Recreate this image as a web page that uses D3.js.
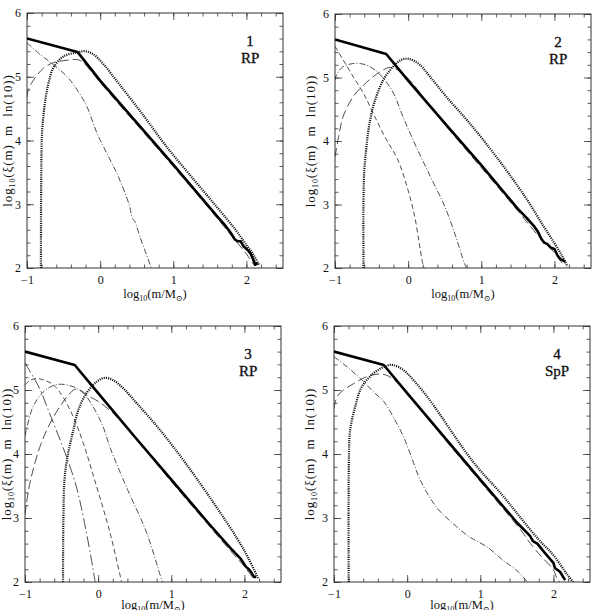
<!DOCTYPE html>
<html><head><meta charset="utf-8">
<script src="https://cdn.jsdelivr.net/npm/d3@7"></script>
<style>body{margin:0;background:#fff}svg{display:block}</style>
</head><body>
<script>
// tick values
let xMajor=[-1,0,1,2];
let yMajor=[2,3,4,5,6];
let panelNum=["1","2","3","4"];
let panelType=["RP","RP","RP","SpP"];

// panel 1
let p1Total=[[-1,5.60],[-0.31,5.39],[0,4.94],[0.5,4.28],[1,3.62],[1.4,3.08],[1.6,2.81],[1.7,2.68],[1.78,2.56],[1.84,2.45],[1.88,2.42],[1.92,2.42],[1.96,2.34],[2.02,2.28],[2.06,2.22],[2.09,2.14],[2.12,2.05],[2.15,2.08]];
let p1Dotted=[[-0.81,2.0],[-0.805,3.5],[-0.795,4.1],[-0.77,4.45],[-0.74,4.7],[-0.7,4.93],[-0.64,5.14],[-0.5,5.32],[-0.32,5.38],[-0.2,5.40],[-0.09,5.35],[0.05,5.19],[0.27,4.87],[0.6,4.38],[0.91,3.9],[1.3,3.36],[1.6,2.95],[1.85,2.6],[2.0,2.36],[2.1,2.2],[2.17,2.05]];
let p1LongDash=[[-1,4.68],[-0.98,4.80],[-0.91,4.95],[-0.77,5.14],[-0.64,5.22],[-0.45,5.26],[-0.32,5.27],[-0.25,5.24],[-0.14,5.11],[0,4.91],[0.5,4.25],[1,3.59],[1.5,2.92],[1.8,2.5],[2.0,2.22],[2.1,2.05]];
let p1DashDot=[[-1,5.53],[-0.82,5.35],[-0.64,5.19],[-0.45,5.0],[-0.3,4.77],[-0.18,4.53],[-0.045,4.12],[0.1,3.78],[0.25,3.43],[0.4,2.98],[0.44,2.78],[0.47,2.74],[0.55,2.47],[0.63,2.22],[0.7,2.0]];

// panel 2
let p2Total=[[-1,5.60],[-0.3,5.37],[0,4.95],[0.5,4.28],[1,3.62],[1.5,2.93],[1.62,2.79],[1.72,2.66],[1.77,2.58],[1.82,2.46],[1.86,2.40],[1.9,2.38],[1.95,2.32],[2.0,2.30],[2.04,2.2],[2.08,2.14],[2.15,2.10]];
let p2Dotted=[[-0.61,2.0],[-0.605,3.4],[-0.57,3.91],[-0.52,4.33],[-0.45,4.65],[-0.34,4.96],[-0.23,5.14],[-0.09,5.28],[0.02,5.29],[0.16,5.20],[0.30,5.01],[0.52,4.70],[0.84,4.28],[1.2,3.76],[1.6,3.12],[1.85,2.66],[2.0,2.39],[2.1,2.2],[2.18,2.02]];
let p2LongDash=[[-1,3.75],[-0.95,4.07],[-0.89,4.38],[-0.75,4.70],[-0.61,4.88],[-0.48,5.01],[-0.34,5.12],[-0.25,5.16],[-0.16,5.13],[0.02,4.96],[0.2,4.70],[0.5,4.26],[1,3.58],[1.5,2.9],[1.8,2.48],[2.0,2.24],[2.12,2.05]];
let p2ShortDash=[[-1,5.49],[-0.89,5.28],[-0.75,5.01],[-0.61,4.75],[-0.48,4.44],[-0.32,4.07],[-0.14,3.70],[0,3.22],[0.09,2.81],[0.15,2.4],[0.2,2.07],[0.22,2.0]];
let p2DashDot=[[-1,4.96],[-0.98,5.04],[-0.89,5.17],[-0.75,5.22],[-0.61,5.21],[-0.48,5.14],[-0.34,4.99],[-0.2,4.75],[-0.07,4.38],[0.11,3.91],[0.3,3.45],[0.5,2.97],[0.65,2.5],[0.77,2.07],[0.8,2.0]];

// panel 3
let p3Total=[[-1,5.60],[-0.32,5.39],[0,4.95],[0.5,4.27],[1,3.6],[1.5,2.93],[1.8,2.54],[1.95,2.36],[2.02,2.24],[2.06,2.2],[2.1,2.14],[2.13,2.08],[2.16,2.08]];
let p3Dotted=[[-0.48,2.0],[-0.475,3.0],[-0.46,3.6],[-0.42,3.95],[-0.34,4.37],[-0.27,4.69],[-0.16,4.95],[-0.02,5.13],[0.09,5.19],[0.21,5.15],[0.34,5.03],[0.53,4.79],[0.85,4.37],[1.2,3.85],[1.6,3.2],[1.9,2.68],[2.05,2.38],[2.19,2.05]];
let p3LongDashDot=[[-1,5.42],[-0.89,5.21],[-0.79,5.0],[-0.70,4.74],[-0.61,4.48],[-0.52,4.22],[-0.43,3.95],[-0.3,3.5],[-0.2,3.0],[-0.1,2.4],[-0.04,2.0]];
let p3ShortDash=[[-1,5.08],[-0.93,5.15],[-0.84,5.18],[-0.73,5.15],[-0.61,5.08],[-0.48,4.89],[-0.34,4.58],[-0.2,4.16],[-0.05,3.6],[0.16,2.78],[0.32,2.0]];
let p3DashDot=[[-1,4.28],[-0.89,4.74],[-0.75,4.97],[-0.61,5.07],[-0.5,5.09],[-0.34,5.05],[-0.2,4.95],[-0.07,4.74],[0.07,4.42],[0.16,4.11],[0.4,3.45],[0.66,2.78],[0.85,2.1],[0.88,2.0]];
let p3LongDash=[[-1,3.05],[-0.95,3.45],[-0.89,3.75],[-0.8,4.1],[-0.7,4.38],[-0.6,4.6],[-0.5,4.78],[-0.4,4.93],[-0.32,5.01],[-0.25,5.0],[-0.15,4.92],[0.03,4.8],[0.21,4.63],[0.3,4.52],[0.6,4.12],[1,3.57],[1.5,2.9],[1.8,2.5],[2.0,2.24],[2.12,2.06]];

// panel 4
let p4Total=[[-1,5.60],[-0.32,5.39],[0,4.95],[0.54,4.22],[1,3.6],[1.5,2.93],[1.68,2.72],[1.72,2.64],[1.78,2.6],[1.9,2.43],[2.0,2.30],[2.02,2.22],[2.09,2.16],[2.16,2.03]];
let p4Dotted=[[-0.80,2.0],[-0.80,3.4],[-0.795,4.0],[-0.78,4.37],[-0.71,4.74],[-0.62,5.05],[-0.46,5.26],[-0.28,5.38],[-0.19,5.39],[-0.05,5.31],[0.09,5.15],[0.31,4.84],[0.9,3.88],[1.3,3.36],[1.54,3.02],[1.8,2.66],[2.0,2.42],[2.18,2.13],[2.27,2.0]];
let p4LongDash=[[-1,4.71],[-0.96,4.89],[-0.87,5.0],[-0.73,5.10],[-0.55,5.21],[-0.37,5.25],[-0.26,5.22],[-0.10,5.08],[0.06,4.89],[0.5,4.25],[1,3.57],[1.54,2.83],[1.72,2.55],[1.85,2.38],[2.0,2.19],[2.05,2.05],[2.09,2.0]];
let p4DashDot=[[-1,5.52],[-0.82,5.36],[-0.64,5.18],[-0.46,4.97],[-0.32,4.82],[-0.19,4.58],[-0.05,4.27],[0.06,3.95],[0.18,3.59],[0.40,3.17],[0.63,2.91],[0.86,2.70],[1.09,2.55],[1.31,2.34],[1.50,2.18],[1.63,2.02],[1.65,2.0]];

let sty={
  total:{w:2.6,dash:null,c:"#000"},
  dotted:{w:2.2,dash:"1.1,1.1",c:"#111"},
  longdash:{w:0.8,dash:"9,4",c:"#222"},
  shortdash:{w:0.8,dash:"5,3",c:"#222"},
  dashdot:{w:0.8,dash:"6,2,1,2",c:"#222"},
  longdashdot:{w:0.8,dash:"11,3,1.5,3",c:"#222"}
};

let panels=[
  {x0:27,x1:283,y0:13,y1:268,lab:15,xl:30,curves:[["longdash",p1LongDash],["dashdot",p1DashDot],["dotted",p1Dotted],["total",p1Total]]},
  {x0:335,x1:591,y0:14,y1:268,lab:20,xl:30,curves:[["longdash",p2LongDash],["shortdash",p2ShortDash],["dashdot",p2DashDot],["dotted",p2Dotted],["total",p2Total]]},
  {x0:25,x1:281,y0:326,y1:582,lab:14,xl:27,curves:[["longdash",p3LongDash],["longdashdot",p3LongDashDot],["shortdash",p3ShortDash],["dashdot",p3DashDot],["dotted",p3Dotted],["total",p3Total]]},
  {x0:334,x1:590,y0:326,y1:582,lab:20,xl:27,curves:[["longdash",p4LongDash],["dashdot",p4DashDot],["dotted",p4Dotted],["total",p4Total]]}
];

let svg=d3.select("body").append("svg").attr("width",598).attr("height",610)
  .style("font-family","'Liberation Serif','DejaVu Serif',serif");

let xMinor=d3.range(-1,2.5001,0.2).map(v=>+v.toFixed(1));
let yMinor=d3.range(2,6.0001,0.2).map(v=>+v.toFixed(1));

panels.forEach((p,i)=>{
  let g=svg.append("g");
  let x=d3.scaleLinear().domain([-1,2.5]).range([p.x0,p.x1]);
  let y=d3.scaleLinear().domain([2,6]).range([p.y1,p.y0]);

  g.append("clipPath").attr("id","clip"+i).append("rect")
    .attr("x",p.x0).attr("y",p.y0).attr("width",p.x1-p.x0).attr("height",p.y1-p.y0);

  // ticks on all four sides, pointing inward
  let mk=(ax,tr,sz,vals,lab,pad)=>{
    let a=g.append("g").attr("transform",tr)
      .call(ax.tickValues(vals).tickSizeInner(sz).tickSizeOuter(0).tickPadding(pad||0).tickFormat(lab?d3.format("d"):""));
    a.select(".domain").remove();
    a.selectAll("line").attr("stroke","#333").attr("stroke-width",0.8);
    a.selectAll("text").attr("font-size",12).attr("fill","#111").style("font-family","'Liberation Serif',serif");
    return a;
  };
  mk(d3.axisBottom(x),`translate(0,${p.y1})`,-3.5,xMinor,false);
  mk(d3.axisTop(x),`translate(0,${p.y0})`,-3.5,xMinor,false);
  mk(d3.axisLeft(y),`translate(${p.x0},0)`,-3.5,yMinor,false);
  mk(d3.axisRight(y),`translate(${p.x1},0)`,-3.5,yMinor,false);
  let xa=mk(d3.axisBottom(x),`translate(0,${p.y1})`,-7,xMajor,true,7.5);
  xa.selectAll("text").text(d=>d<0?"\u2212"+Math.abs(d):d);
  mk(d3.axisTop(x),`translate(0,${p.y0})`,-7,xMajor,false);
  mk(d3.axisLeft(y),`translate(${p.x0},0)`,-7,yMajor,true,6);
  mk(d3.axisRight(y),`translate(${p.x1},0)`,-7,yMajor,false);

  g.append("rect").attr("x",p.x0).attr("y",p.y0).attr("width",p.x1-p.x0).attr("height",p.y1-p.y0)
    .attr("fill","none").attr("stroke","#333").attr("stroke-width",1);

  let smooth=d3.line().x(d=>x(d[0])).y(d=>y(d[1])).curve(d3.curveCatmullRom.alpha(0.5));
  let straight=d3.line().x(d=>x(d[0])).y(d=>y(d[1]));
  let cg=g.append("g").attr("clip-path",`url(#clip${i})`);
  p.curves.forEach(([k,pts])=>{
    let s=sty[k];
    cg.append("path").attr("d",(k=="total"?straight:smooth)(pts)).attr("fill","none")
      .attr("stroke",s.c).attr("stroke-width",s.w)
      .attr("stroke-dasharray",s.dash).attr("stroke-linejoin","round");
  });

  // panel label
  let cx=x(2.05);
  g.append("text").attr("x",cx).attr("y",y(5.48)).attr("text-anchor","middle")
    .attr("font-size",15).attr("fill","#111").attr("stroke","#111").attr("stroke-width",0.35).text(panelNum[i]);
  g.append("text").attr("x",cx).attr("y",y(5.22)).attr("text-anchor","middle")
    .attr("font-size",15).attr("fill","#111").attr("stroke","#111").attr("stroke-width",0.35).text(panelType[i]);

  // x label
  let xl=g.append("text").attr("x",(p.x0+p.x1)/2).attr("y",p.y1+p.xl).attr("text-anchor","middle")
    .attr("font-size",12.5).attr("fill","#111");
  xl.append("tspan").text("log");
  xl.append("tspan").attr("font-size",8).attr("dy",3).text("10");
  xl.append("tspan").attr("dy",-3).text("(m/M");
  xl.append("tspan").attr("font-size",8).attr("dy",3).text("\u2299");
  xl.append("tspan").attr("dy",-3).text(")");

  // y label
  let yl=g.append("text").attr("transform",`translate(${p.x0-p.lab},${(p.y0+p.y1)/2}) rotate(-90)`)
    .attr("text-anchor","middle").attr("font-size",13).attr("fill","#111")
    .attr("letter-spacing",0.9).attr("xml:space","preserve");
  yl.append("tspan").text("log");
  yl.append("tspan").attr("font-size",8).attr("dy",3).text("10");
  yl.append("tspan").attr("dy",-3).text("(\u03be(m)  m  ln(10))");
});
</script>
</body></html>
